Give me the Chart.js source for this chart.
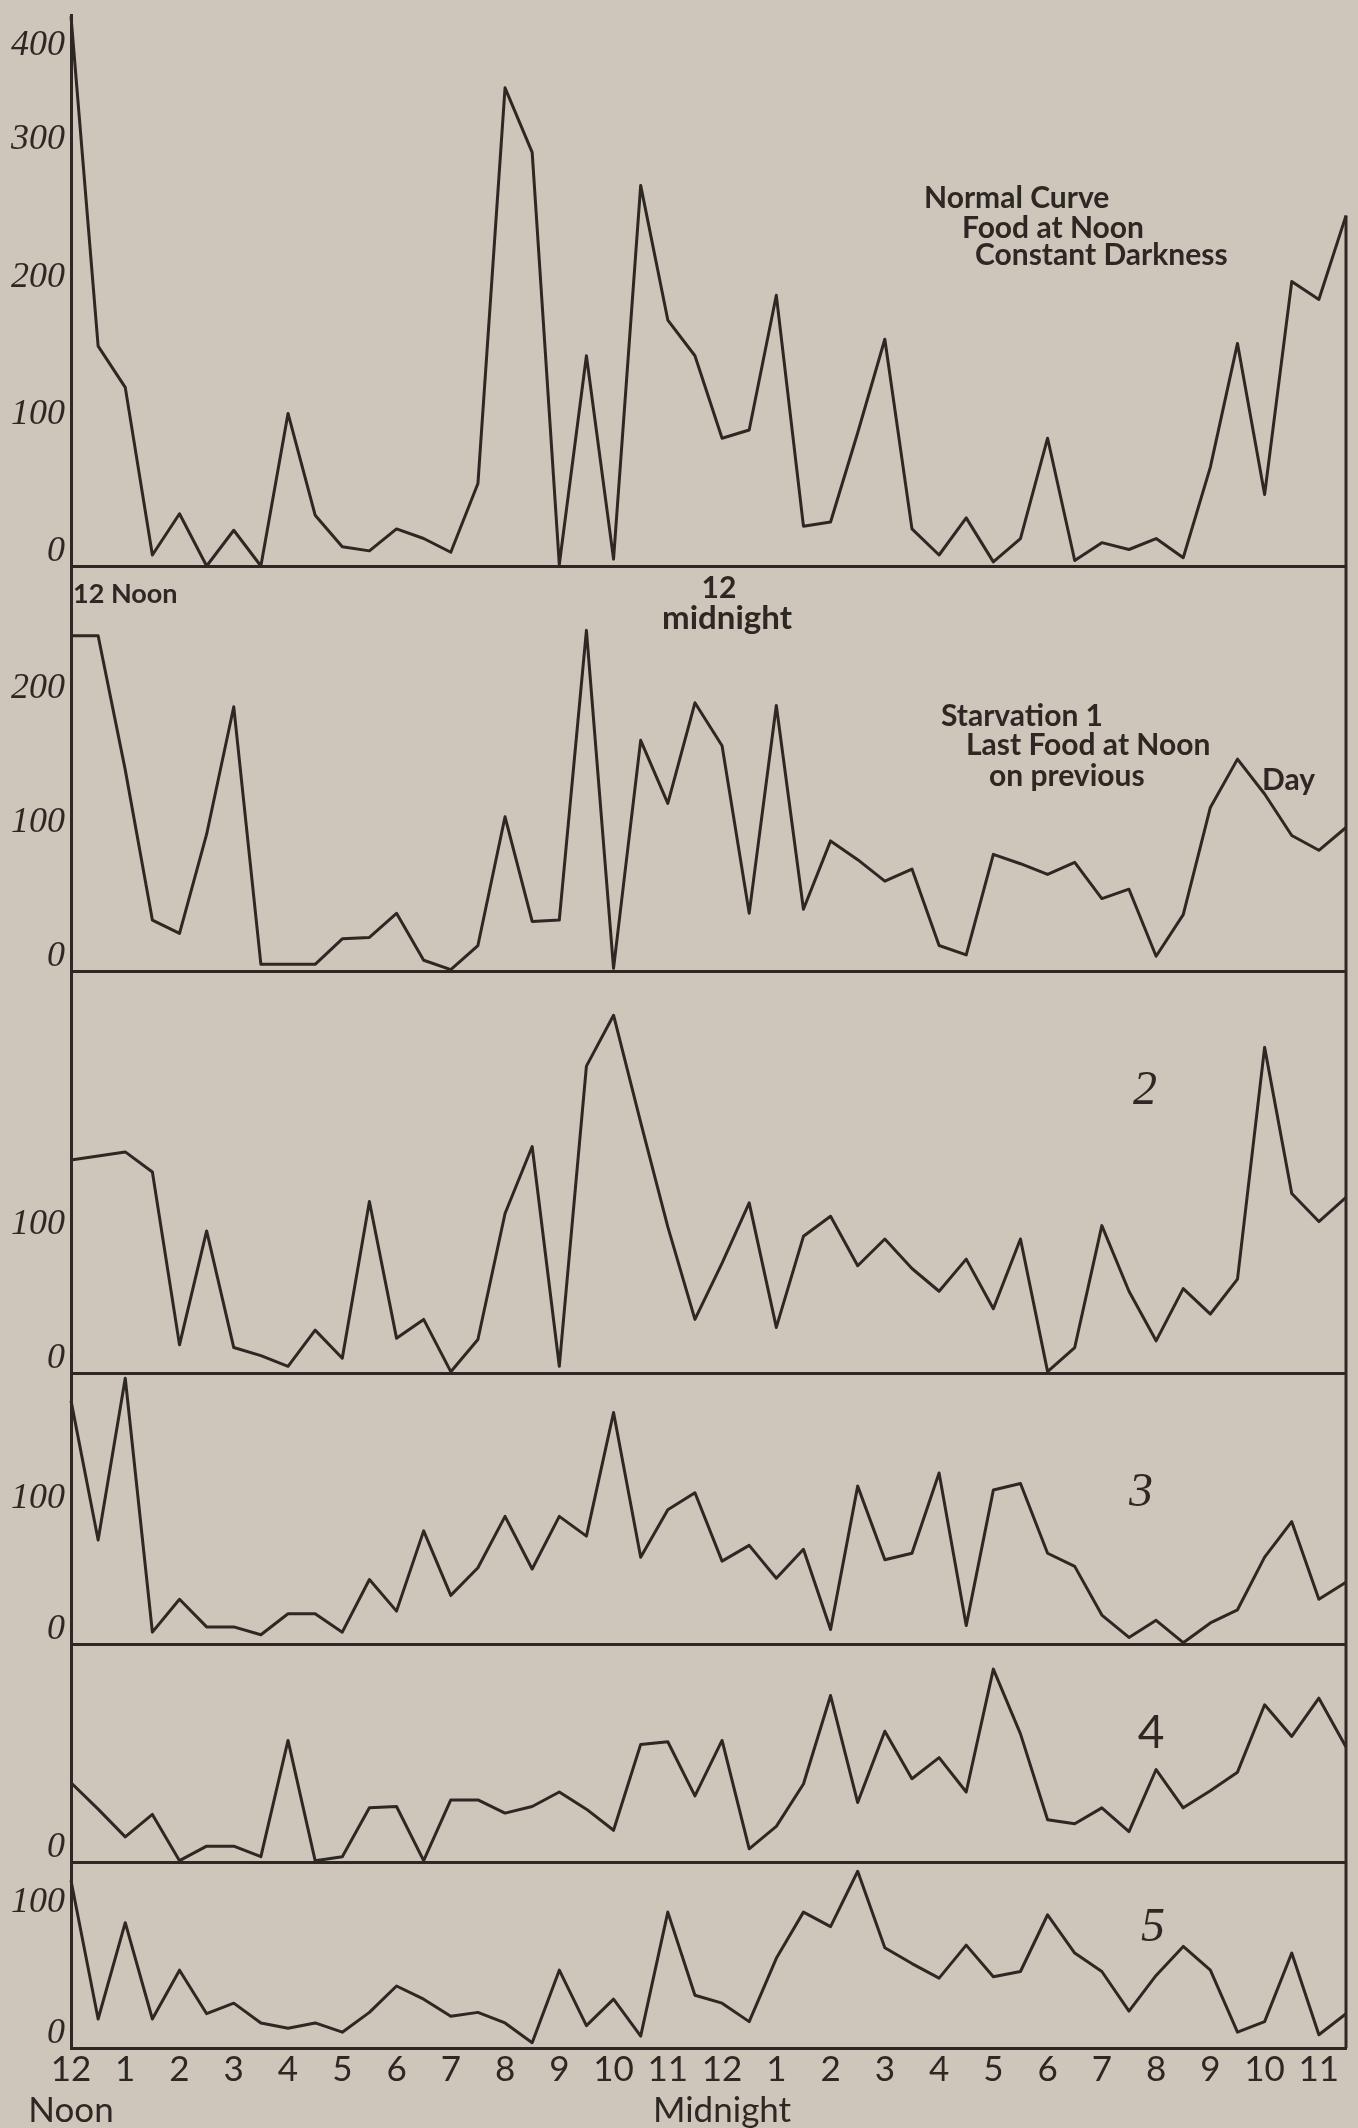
<!DOCTYPE html>
<html>
<head>
<meta charset="utf-8">
<script src="https://cdn.jsdelivr.net/npm/chart.js@4.4.1/dist/chart.umd.min.js"></script>
<style>
  html, body { margin: 0; padding: 0; background: #cec6ba; }
  #quadro { position: relative; width: 1358px; height: 2128px; }
</style>
</head>
<body>
<div id="quadro"><canvas id="curvas"></canvas></div>
<script>
// horas do eixo x (12 meio-dia ate 11 da manha), um ponto a cada meia hora
const hourLabels = ['12','1','2','3','4','5','6','7','8','9','10','11',
                    '12','1','2','3','4','5','6','7','8','9','10','11']

// valores, 48 pontos por curva
const normalCurve = [400,160,130,8,38,0,26,0,111,37,14,11,27,20,10,60,348,301,1,153,5,277,179,153,
                     93,99,197,29,32,97,165,27,8,35,3,20,93,4,17,12,20,6,72,162,52,207,194,255]
const starvation1 = [250,250,150,38,28,102,197,5,5,5,24,25,43,8,1,19,115,37,38,254,2,172,125,200,
                     168,43,198,46,97,83,67,76,19,12,87,80,72,81,54,61,11,42,122,158,132,101,90,107]
const starvation2 = [159,162,165,150,21,106,19,13,5,32,11,128,26,40,1,25,119,169,5,229,267,187,109,40,
                     82,127,34,102,117,80,100,78,61,85,48,100,1,19,110,61,24,63,44,70,243,134,113,131]
const starvation3 = [185,79,202,9,34,13,13,7,23,23,9,49,25,86,37,58,97,57,97,82,176,66,102,115,
                     63,75,50,72,11,120,64,69,130,14,117,122,69,59,22,5,18,1,16,26,66,93,34,47]
const starvation4 = [60,40,19,36,1,12,12,4,92,1,4,41,42,1,47,47,37,42,53,40,24,89,91,50,
                     92,10,27,59,126,45,99,63,79,53,146,97,32,29,41,23,70,41,54,68,119,95,124,87]
const starvation5 = [127,22,95,22,59,26,34,19,15,19,12,27,47,37,24,27,19,4,59,17,37,9,103,40,
                     34,20,68,103,92,134,76,64,53,78,54,58,101,72,58,28,55,77,59,12,20,72,10,26]

// marcas do eixo y de cada painel
const ticksNormal = [0,100,200,300,400]
const ticksStarv1 = [0,100,200]
const ticksStarv2 = [0,100]
const ticksStarv3 = [0,100]
const ticksStarv4 = [0]
const ticksStarv5 = [0,100]

const corTinta = '#2e2824'
const corFundo = '#cec6ba'

// paineis de cima para baixo: altura em px (peso) e topo da escala
const paineis = [
    {id: 'y1', dados: normalCurve, marcas: ticksNormal, max: 401, peso: 551},
    {id: 'y2', dados: starvation1, marcas: ticksStarv1, max: 302, peso: 405},
    {id: 'y3', dados: starvation2, marcas: ticksStarv2, max: 300, peso: 402},
    {id: 'y4', dados: starvation3, marcas: ticksStarv3, max: 206, peso: 271},
    {id: 'y5', dados: starvation4, marcas: ticksStarv4, max: 165, peso: 218},
    {id: 'y6', dados: starvation5, marcas: ticksStarv5, max: 141, peso: 186},
]

// textos escritos a mao no original
const notas = [
    {t: 'Normal Curve', x: 924, y: 198, f: 'bold 30px Lato'},
    {t: 'Food at Noon', x: 962, y: 228, f: 'bold 30px Lato'},
    {t: 'Constant Darkness', x: 975, y: 255, f: 'bold 30px Lato'},
    {t: '12 Noon', x: 73, y: 594, f: 'bold 27px Lato'},
    {t: '12', x: 719, y: 588, f: 'bold 30px Lato', a: 'center'},
    {t: 'midnight', x: 727, y: 618, f: 'bold 33px Lato', a: 'center'},
    {t: 'Starvation 1', x: 941, y: 716, f: 'bold 30px Lato'},
    {t: 'Last Food at Noon', x: 966, y: 745, f: 'bold 30px Lato'},
    {t: 'on previous', x: 989, y: 776, f: 'bold 30px Lato'},
    {t: 'Day', x: 1262, y: 780, f: 'bold 30px Lato'},
    {t: '2', x: 1145, y: 1091, f: 'italic 48px "Liberation Serif"', a: 'center'},
    {t: '3', x: 1141, y: 1493, f: 'italic 48px "Liberation Serif"', a: 'center'},
    {t: '4', x: 1151, y: 1733, f: '46px Lato', a: 'center'},
    {t: '5', x: 1153, y: 1928, f: 'italic 48px "Liberation Serif"', a: 'center'},
]

const fundoPlugin = {
    id: 'fundo',
    beforeDraw(chart) {
        const ctx = chart.ctx
        ctx.save()
        ctx.fillStyle = corFundo
        ctx.fillRect(0, 0, chart.width, chart.height)
        ctx.restore()
    }
}

const extrasPlugin = {
    id: 'extras',
    afterDraw(chart) {
        const ctx = chart.ctx
        const area = chart.chartArea
        const y1 = chart.scales.y1
        ctx.save()
        // borda direita: no painel de cima so comeca no ultimo ponto
        ctx.strokeStyle = corTinta
        ctx.lineWidth = 3
        ctx.beginPath()
        ctx.moveTo(area.right, y1.getPixelForValue(normalCurve[normalCurve.length - 1]))
        ctx.lineTo(area.right, area.bottom)
        ctx.stroke()

        ctx.fillStyle = corTinta
        ctx.textBaseline = 'middle'
        notas.forEach(n => {
            ctx.font = n.f
            ctx.textAlign = n.a || 'left'
            ctx.fillText(n.t, n.x, n.y)
        })
        ctx.restore()
    }
}

// tira o espaco extra que o chart.js reserva para os rotulos das pontas
function semSobra(s) {
    s.paddingTop = 0
    s.paddingBottom = 0
    s.paddingLeft = 0
    s.paddingRight = 0
}

function montaEscalas() {
    const escalas = {
        x: {
            type: 'linear',
            min: 0,
            max: 23.5,
            afterBuildTicks: (s) => { s.ticks = hourLabels.map((h, i) => ({value: i})) },
            afterFit: (s) => { s.height = 80; semSobra(s) },
            grid: {display: true, drawOnChartArea: false, drawTicks: false},
            border: {display: true, color: corTinta, width: 3},
            ticks: {
                color: corTinta,
                padding: 2,
                font: {family: 'Lato', size: 35, lineHeight: 1.15},
                maxRotation: 0,
                autoSkip: false,
                callback: (v, i) => {
                    if (i === 0) return [hourLabels[i], 'Noon']
                    if (i === 12) return [hourLabels[i], 'Midnight']
                    return hourLabels[i]
                }
            }
        }
    }
    paineis.forEach((p, k) => {
        escalas[p.id] = {
            type: 'linear',
            position: 'left',
            stack: 'paineis',
            stackWeight: p.peso,
            weight: paineis.length - k,
            min: 0,
            max: p.max,
            afterBuildTicks: (s) => { s.ticks = p.marcas.map(v => ({value: v})) },
            afterFit: (s) => { s.width = 71; semSobra(s) },
            grid: {
                display: true,
                drawOnChartArea: true,
                drawTicks: false,
                lineWidth: 3,
                color: (c) => (c.tick && c.tick.value === 0) ? corTinta : 'rgba(0,0,0,0)'
            },
            border: {display: true, color: corTinta, width: 3},
            ticks: {
                color: corTinta,
                padding: 6,
                labelOffset: -14,
                autoSkip: false,
                font: {family: 'Liberation Serif', style: 'italic', size: 36, lineHeight: 1.2},
                // o 400 fica abaixo da marca no original
                callback: (v) => (v === 400 ? ['', '', String(v)] : String(v))
            }
        }
    })
    return escalas
}

window.onload = () => {
    const ctx = document.getElementById('curvas').getContext('2d')
    new Chart(ctx, {
        type: 'line',
        data: {
            datasets: paineis.map(p => ({
                data: p.dados.map((v, i) => ({x: i / 2, y: v})),
                yAxisID: p.id,
                borderColor: corTinta,
                borderWidth: 3,
                borderJoinStyle: 'round',
                pointRadius: 0,
                tension: 0,
                clip: false
            }))
        },
        options: {
            responsive: true,
            maintainAspectRatio: false,
            devicePixelRatio: 1,
            animation: false,
            layout: {padding: {top: 15, right: 12, left: 0, bottom: 0}},
            plugins: {legend: {display: false}, tooltip: {enabled: false}},
            scales: montaEscalas()
        },
        plugins: [fundoPlugin, extrasPlugin]
    })
}
</script>
</body>
</html>
